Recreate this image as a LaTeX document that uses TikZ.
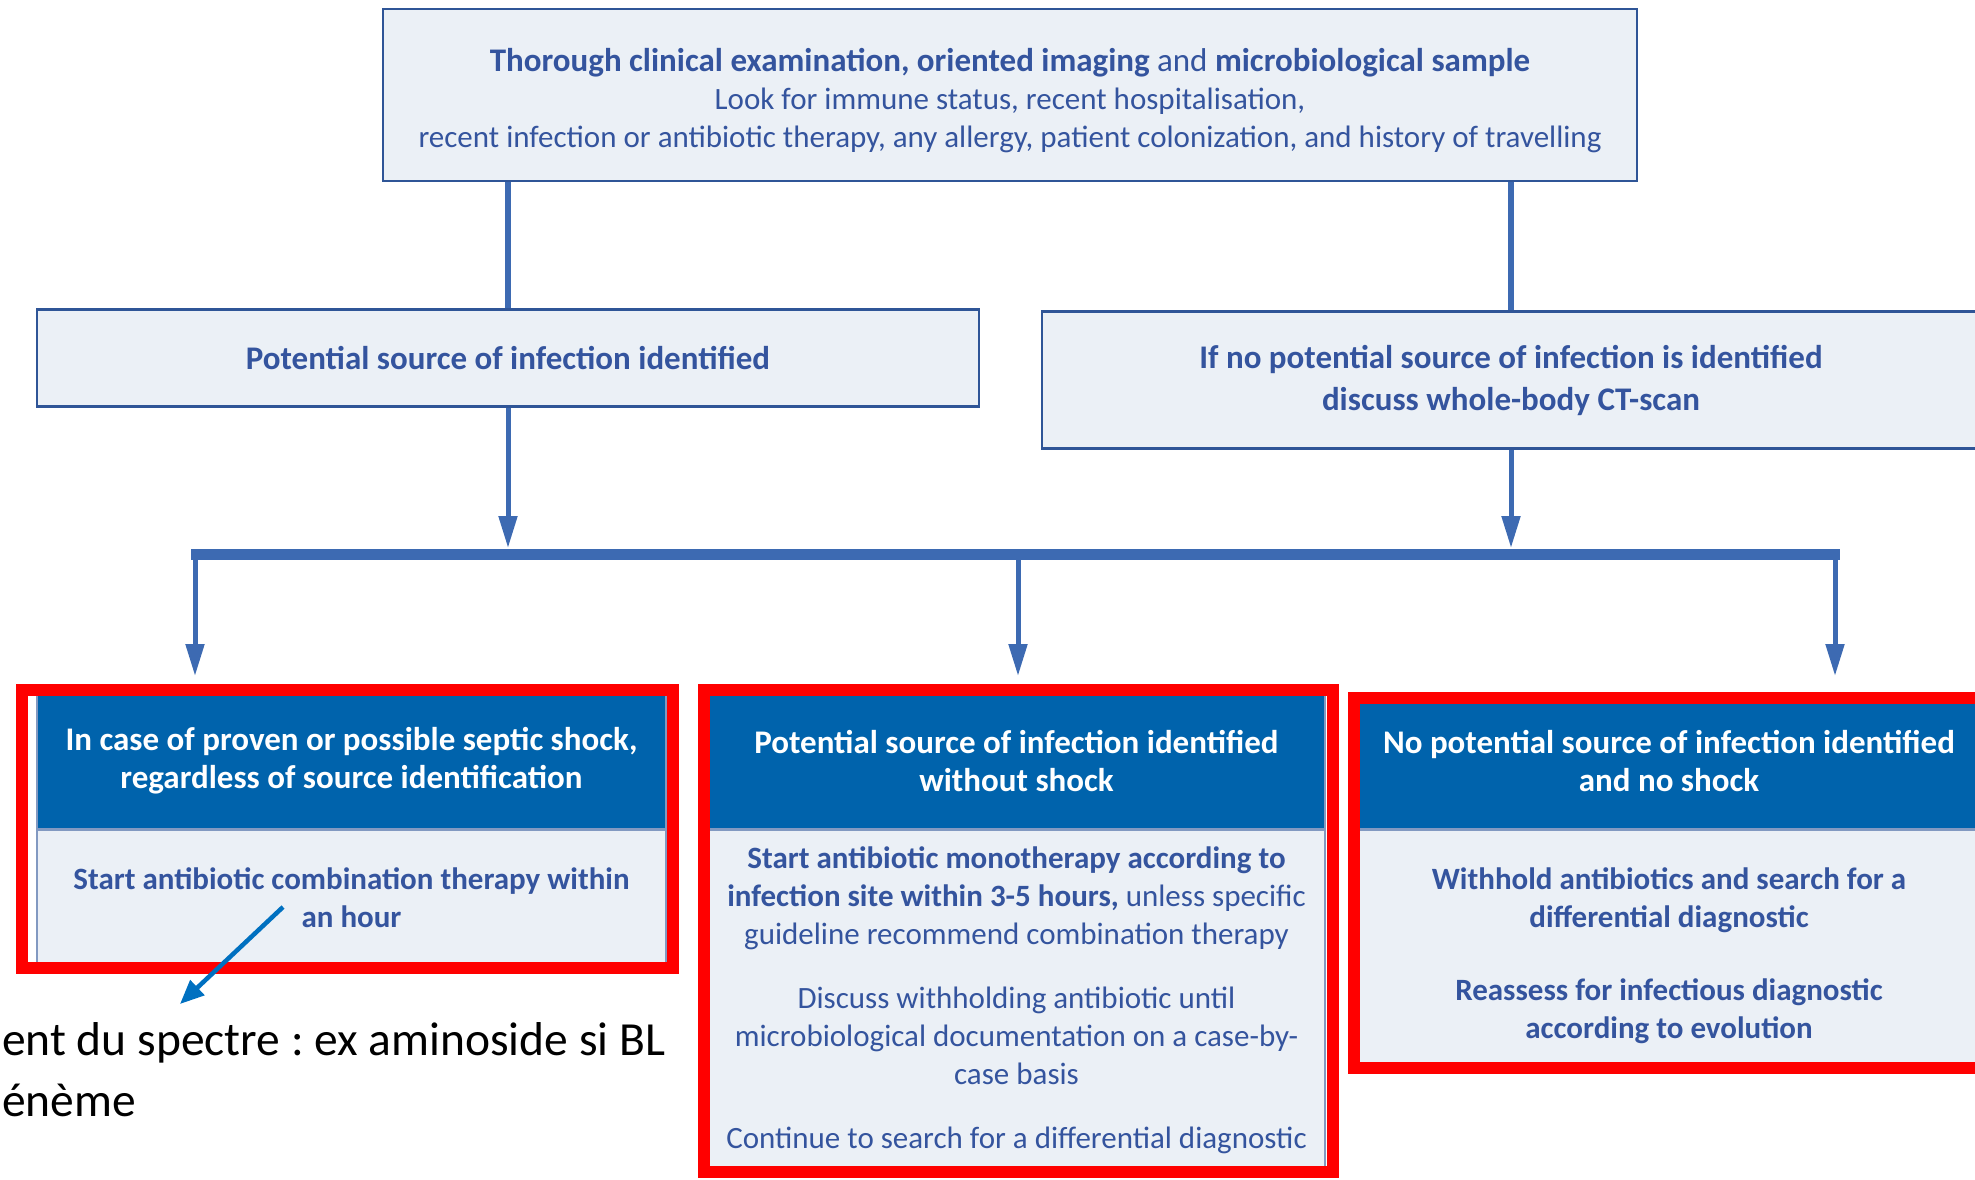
\documentclass[tikz,border=0pt]{standalone}
\usepackage{fontspec}
\setmainfont{Carlito}
\usetikzlibrary{arrows.meta,positioning}
\definecolor{hdblue}{RGB}{0,99,172}
\definecolor{pale}{RGB}{235,240,246}
\definecolor{edgeblue}{RGB}{47,85,151}
\definecolor{txtblue}{RGB}{52,84,158}
\definecolor{linkblue}{RGB}{61,106,178}
\definecolor{ptrblue}{RGB}{0,112,192}
\newcommand\bxfont{\fontsize{31}{38}\selectfont}
\newcommand\hdfont{\fontsize{33}{38}\selectfont}
\newcommand\notefont{\fontsize{47.5}{57}\selectfont\frenchspacing}
\tikzset{
  lightbox/.style={draw=edgeblue,line width=2.5pt,fill=pale,text=txtblue,align=center,inner sep=0pt,font=\bxfont},
  headbox/.style={draw=edgeblue!60,line width=1.5pt,fill=hdblue,text=white,align=center,inner sep=0pt,font=\hdfont\bfseries},
  bodybox/.style={draw=edgeblue!60,line width=1.5pt,fill=pale,text=txtblue,align=center,inner sep=0pt,font=\bxfont},
  link/.style={linkblue,line width=6pt},
  arr/.style={linkblue,line width=5pt,-{Triangle[length=32pt,width=18pt]}},
  hilite/.style={draw=red,line width=12pt},
}
\begin{document}
\begin{tikzpicture}[x=1pt,y=-1pt]
\useasboundingbox (0,0) rectangle (1975,1179);
\clip (0,0) rectangle (1975,1179);
\node[lightbox,minimum width=1254pt,minimum height=172pt] (exam) at (1010,95)
  {\mbox{}\\[-4pt]
   {\hdfont\textbf{Thorough clinical examination, oriented imaging} and \textbf{microbiological sample}}\\
   Look for immune status, recent hospitalisation,\\
   recent infection or antibiotic therapy, any allergy, patient colonization, and history of travelling};
\node[lightbox,minimum width=942pt,minimum height=97pt,font=\hdfont\bfseries] (srcid) at (508,358)
  {Potential source of infection identified};
\node[lightbox,minimum width=938pt,minimum height=137pt,font=\hdfont\bfseries] (nosrc) at (1511,380)
  {If no potential source of infection is identified\\[4pt]discuss whole-body CT-scan};
\draw[link] (srcid.north |- exam.south) -- (srcid.north);
\draw[link] (nosrc.north |- exam.south) -- (nosrc.north);
\coordinate (barL) at (191,554);
\coordinate (barR) at (1840,554);
\draw[arr,shorten >=6pt] (srcid.south) -- (srcid.south |- barL);
\draw[arr,shorten >=6pt] (nosrc.south) -- (nosrc.south |- barL);
\draw[linkblue,line width=11pt] (barL) -- (barR);
\foreach \x/\n in {195/1,1018/2,1835/3} {
  \coordinate (d\n) at (\x,676);
  \draw[arr] (d\n |- barL) -- (d\n);
}
\node[headbox,minimum width=629pt,minimum height=136pt] (shock) at (351.5,761)
  {In case of proven or possible septic shock,\\regardless of source identification};
\node[bodybox,minimum width=629pt,minimum height=135pt,below=0pt of shock] (shockbody)
  {\textbf{Start antibiotic combination therapy within}\\\textbf{an hour}};
\node[headbox,minimum width=617pt,minimum height=136pt] (noshock) at (1016.5,761)
  {Potential source of infection identified\\without shock};
\node[bodybox,minimum width=617pt,minimum height=339pt,below=0pt of noshock] (noshockbody)
  {\textbf{Start antibiotic monotherapy according to}\\
   \textbf{infection site within 3-5 hours,} unless specific\\
   guideline recommend combination therapy\\[26pt]
   Discuss withholding antibiotic until\\
   microbiological documentation on a case-by-\\
   case basis\\[26pt]
   Continue to search for a differential diagnostic};
\node[headbox,minimum width=622pt,minimum height=136pt] (nosource) at (1669,761)
  {No potential source of infection identified\\and no shock};
\node[bodybox,minimum width=622pt,minimum height=235pt,below=0pt of nosource] (nosourcebody)
  {\mbox{}\\
   \textbf{Withhold antibiotics and search for a}\\
   \textbf{differential diagnostic}\\[35pt]
   \textbf{Reassess for infectious diagnostic}\\
   \textbf{according to evolution}};
\draw[hilite] (22,690) rectangle (673,968);
\draw[hilite] (704,690) rectangle (1333,1172);
\draw[hilite] (1354,698) rectangle (1995,1068);
\node[anchor=west,inner sep=0pt,font=\notefont] (note1) at (2,1043) {ent du spectre : ex aminoside si BL};
\node[anchor=west,inner sep=0pt,font=\notefont] (note2) at (2,1100) {énème};
\coordinate (ptrS) at (283,907);
\coordinate (ptrE) at (180,1004);
\draw[ptrblue,line width=4.5pt,-{Triangle[length=24pt,width=20pt]}] (ptrS) -- (ptrE);
\end{tikzpicture}
\end{document}
